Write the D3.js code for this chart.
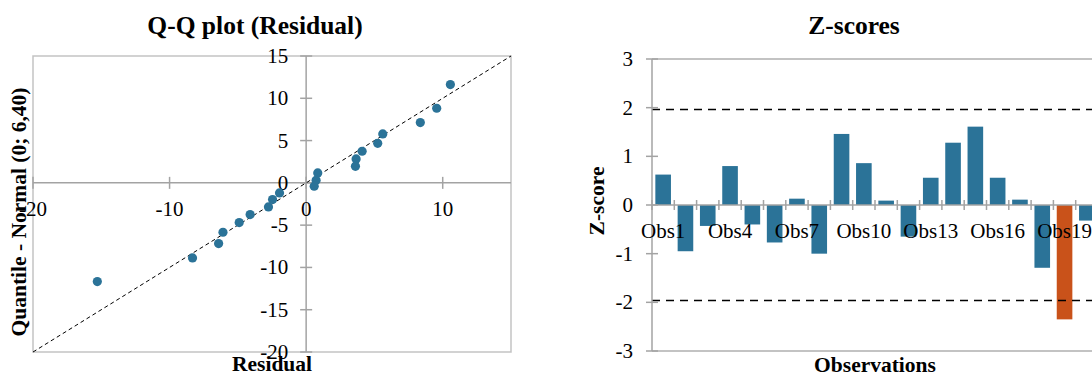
<!DOCTYPE html>
<html><head><meta charset="utf-8">
<script src="https://cdn.jsdelivr.net/npm/d3@7"></script>
<style>
body{margin:0;background:#fff}
svg{display:block}
text{font-family:"Liberation Serif","Times New Roman",serif;fill:#000}
</style>
</head><body>
<svg id="c" width="1092" height="376"></svg>
<script>
// ---- Q-Q plot data (Residual vs Normal quantile) ----
const residuals = [10.56, 9.56, 8.36, 5.61, 5.24, 4.10, 3.66, 3.61, 0.85, 0.73, 0.59,
                   -1.95, -2.46, -2.76, -4.10, -4.90, -6.09, -6.41, -8.32, -15.29];
const quantiles = [11.62, 8.82, 7.13, 5.78, 4.68, 3.74, 2.83, 1.96, 1.17, 0.31, -0.40,
                   -1.19, -1.97, -2.85, -3.75, -4.70, -5.84, -7.18, -8.88, -11.67];
const qqXTicks = [-20, -10, 0, 10];
const qqYTicks = [-20, -15, -10, -5, 0, 5, 10, 15];
const qqDomain = [-20, 15];

// ---- Z-scores data ----
const observations = ["Obs1","Obs2","Obs3","Obs4","Obs5","Obs6","Obs7","Obs8","Obs9","Obs10",
                      "Obs11","Obs12","Obs13","Obs14","Obs15","Obs16","Obs17","Obs18","Obs19","Obs20"];
const zScores = [0.625, -0.95, -0.43, 0.80, -0.40, -0.77, 0.13, -1.00, 1.46, 0.86,
                 0.09, -0.65, 0.56, 1.28, 1.61, 0.56, 0.11, -1.29, -2.35, -0.32];
const zTicks = [-3, -2, -1, 0, 1, 2, 3];
const zLimit = 1.96;

const svg = d3.select("#c");
const BLUE = "#2b7398", ORANGE = "#c9521a", AXIS = "#a3a3a3", BORDER = "#c3c3c3";
const TICK_FS = 21, TITLE_FS = 25.5, AX_FS = 21.5;

// ================= Left: Q-Q plot =================
const x = d3.scaleLinear().domain(qqDomain).range([33, 511]);
const y = d3.scaleLinear().domain(qqDomain).range([352, 56]);
const L = svg.append("g");

L.append("rect").attr("x", x(-20)).attr("y", y(15))
  .attr("width", x(15) - x(-20)).attr("height", y(-20) - y(15))
  .attr("fill", "none").attr("stroke", BORDER).attr("stroke-width", 1.5);

// axes through zero
L.append("line").attr("x1", x(-20)).attr("x2", x(15)).attr("y1", y(0)).attr("y2", y(0))
  .attr("stroke", AXIS).attr("stroke-width", 1.5);
L.append("line").attr("x1", x(0)).attr("x2", x(0)).attr("y1", y(-20)).attr("y2", y(15))
  .attr("stroke", AXIS).attr("stroke-width", 1.5);

qqXTicks.forEach(t => {
  L.append("line").attr("x1", x(t)).attr("x2", x(t)).attr("y1", y(0) - 6).attr("y2", y(0) + 6)
    .attr("stroke", AXIS).attr("stroke-width", 1.5);
  L.append("text").attr("x", x(t)).attr("y", y(0) + 33).attr("text-anchor", "middle")
    .attr("font-size", TICK_FS).text(t);
});
qqYTicks.forEach(t => {
  L.append("line").attr("x1", x(0) - 6).attr("x2", x(0) + 6).attr("y1", y(t)).attr("y2", y(t))
    .attr("stroke", AXIS).attr("stroke-width", 1.5);
  L.append("text").attr("x", x(0) - 18).attr("y", y(t) + 7).attr("text-anchor", "end")
    .attr("font-size", TICK_FS).text(t);
});

// reference line
L.append("line").attr("x1", x(-20)).attr("y1", y(-20)).attr("x2", x(15)).attr("y2", y(15))
  .attr("stroke", "#000").attr("stroke-width", 1).attr("stroke-dasharray", "4,3");

L.selectAll("circle.pt").data(residuals.map((r, i) => [r, quantiles[i]])).enter()
  .append("circle").attr("class", "pt")
  .attr("cx", d => x(d[0])).attr("cy", d => y(d[1])).attr("r", 4.6).attr("fill", BLUE);

L.append("text").attr("x", 255).attr("y", 34).attr("text-anchor", "middle")
  .attr("font-size", TITLE_FS).attr("font-weight", "bold").text("Q-Q plot (Residual)");
L.append("text").attr("x", (x(-20) + x(15)) / 2).attr("y", 371).attr("text-anchor", "middle")
  .attr("font-size", AX_FS).attr("font-weight", "bold").text("Residual");
L.append("text").attr("transform", "translate(26,212) rotate(-90)").attr("text-anchor", "middle")
  .attr("font-size", AX_FS).attr("font-weight", "bold").text("Quantile - Normal (0; 6,40)");

// ================= Right: Z-scores =================
const xb = d3.scaleBand().domain(observations).range([652, 1098]).paddingInner(0.3).paddingOuter(0.15);
const yz = d3.scaleLinear().domain([-3, 3]).range([351, 59]);
const R = svg.append("g");

R.append("line").attr("x1", xb.range()[0]).attr("x2", xb.range()[1]).attr("y1", yz(3)).attr("y2", yz(3))
  .attr("stroke", BORDER).attr("stroke-width", 2);
R.append("line").attr("x1", xb.range()[0]).attr("x2", xb.range()[1]).attr("y1", yz(-3)).attr("y2", yz(-3))
  .attr("stroke", BORDER).attr("stroke-width", 2);

R.selectAll("rect.bar").data(zScores).enter().append("rect").attr("class", "bar")
  .attr("x", (d, i) => xb(observations[i])).attr("width", xb.bandwidth())
  .attr("y", d => yz(Math.max(0, d))).attr("height", d => Math.abs(yz(d) - yz(0)))
  .attr("fill", d => Math.abs(d) > zLimit ? ORANGE : BLUE);

// limits
[zLimit, -zLimit].forEach(v => {
  R.append("line").attr("x1", xb.range()[0]).attr("x2", xb.range()[1]).attr("y1", yz(v)).attr("y2", yz(v))
    .attr("stroke", "#000").attr("stroke-width", 1.5).attr("stroke-dasharray", "8,6");
});

// y axis
R.append("line").attr("x1", 652).attr("x2", 652).attr("y1", yz(-3)).attr("y2", yz(3))
  .attr("stroke", AXIS).attr("stroke-width", 1.5);
zTicks.forEach(t => {
  R.append("line").attr("x1", 646).attr("x2", 658).attr("y1", yz(t)).attr("y2", yz(t))
    .attr("stroke", AXIS).attr("stroke-width", 1.5);
  R.append("text").attr("x", 633).attr("y", yz(t) + 7).attr("text-anchor", "end")
    .attr("font-size", TICK_FS).text(t);
});

// x axis at zero
R.append("line").attr("x1", xb.range()[0]).attr("x2", xb.range()[1]).attr("y1", yz(0)).attr("y2", yz(0))
  .attr("stroke", AXIS).attr("stroke-width", 1.5);
d3.range(observations.length + 1).forEach(i => {
  const bx = xb.range()[0] + i * xb.step();
  R.append("line").attr("x1", bx).attr("x2", bx).attr("y1", yz(0) - 5).attr("y2", yz(0) + 5)
    .attr("stroke", AXIS).attr("stroke-width", 1.5);
});
observations.forEach((o, i) => {
  if (i % 3 !== 0) return;
  R.append("text").attr("x", xb(o) + xb.bandwidth() / 2).attr("y", yz(0) + 33)
    .attr("text-anchor", "middle").attr("font-size", TICK_FS).text(o);
});

R.append("text").attr("x", 854).attr("y", 34).attr("text-anchor", "middle")
  .attr("font-size", TITLE_FS).attr("font-weight", "bold").text("Z-scores");
R.append("text").attr("x", (xb.range()[0] + xb.range()[1]) / 2).attr("y", 372).attr("text-anchor", "middle")
  .attr("font-size", AX_FS).attr("font-weight", "bold").text("Observations");
R.append("text").attr("transform", "translate(604,201) rotate(-90)").attr("text-anchor", "middle")
  .attr("font-size", AX_FS).attr("font-weight", "bold").text("Z-score");
</script>
</body></html>
